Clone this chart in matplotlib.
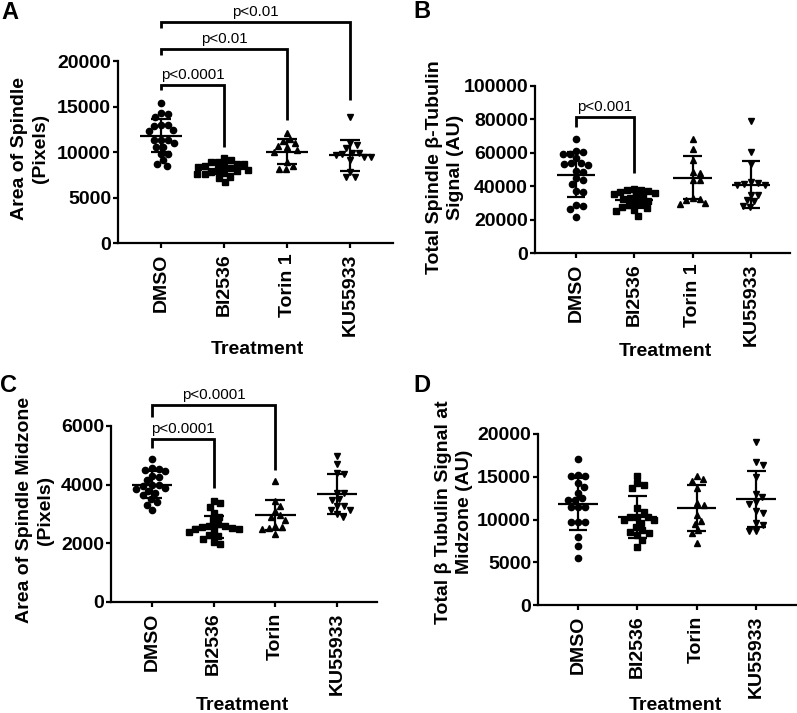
import numpy as np
import matplotlib
matplotlib.use('Agg')
import matplotlib.pyplot as plt

plt.rcParams['font.family'] = ['Liberation Sans', 'DejaVu Sans']
plt.rcParams['font.weight'] = 'bold'

# ---------------- data ----------------
cats_ab = ["DMSO", "BI2536", "Torin 1", "KU55933"]
cats_cd = ["DMSO", "BI2536", "Torin", "KU55933"]

# Panel A: Area of spindle (pixels)
a_dmso = [15340, 14130, 14240, 13800, 12950, 12950, 12840, 12400, 12290, 11300,
          11300, 11300, 11000, 10570, 10570, 9830, 9830, 9100, 8730, 8440]
a_bi = [9350, 9100, 8950, 8850, 8700, 8650, 8500, 8450, 8300, 8250,
        8150, 8050, 7900, 7850, 7700, 7600, 7550, 7300, 7150, 6700]
a_torin = [12120, 11400, 11210, 10950, 10660, 10510, 10220, 10040, 8930, 8460, 8100, 8100]
a_ku = [13880, 11030, 10770, 10400, 9930, 9930, 9740, 9670, 9490, 9490, 9120, 7840, 7290, 7220]
a_mean = [11800, 8150, 10050, 9620]
a_sd = [1800, 600, 1420, 1690]
a_yticks = [0, 5000, 10000, 15000, 20000]
a_brackets = [(0, 1, 17360, 16810, 10550, "p<0.0001"),
              (0, 2, 21280, 20660, 13520, "p<0.01"),
              (0, 3, 24320, 23590, 15710, "p<0.01")]

# Panel B: Total spindle beta-tubulin signal (AU)
b_dmso = [68080, 60660, 61260, 59100, 59100, 56700, 53290, 53700, 52690, 54070, 48680,
          49280, 43710, 44710, 41320, 36710, 37310, 28140, 28740, 26170, 21380]
b_bi = [38500, 38000, 37700, 37200, 36800, 36000, 35500, 34500, 33800, 33000,
        32500, 31000, 30200, 29500, 28500, 27800, 26800, 25800, 25000, 22200]
b_torin = [68000, 62000, 55500, 48500, 48000, 43700, 43700, 33000, 32500, 32000, 29700, 29500]
b_ku = [79000, 60500, 53500, 42500, 42000, 41500, 41000, 40500, 35000, 34500, 31500, 31000, 28000, 27500]
b_mean = [47000, 31700, 45100, 40900]
b_sd = [13300, 4700, 12960, 14250]
b_yticks = [0, 20000, 40000, 60000, 80000, 100000]
b_brackets = [(0, 1, 81600, 75600, 48100, "p<0.001")]

# Panel C: Area of spindle midzone (pixels)
c_dmso = [4860, 4580, 4540, 4500, 4450, 4300, 4250, 4150, 4000, 4000,
          3950, 3900, 3850, 3800, 3700, 3650, 3500, 3400, 3300, 3150]
c_bi = [3450, 3380, 3250, 3050, 2900, 2800, 2650, 2600, 2580, 2550,
        2520, 2500, 2480, 2450, 2400, 2300, 2250, 2150, 2050, 1980]
c_torin = [4120, 3450, 3270, 3110, 2960, 2900, 2780, 2600, 2550, 2520, 2500, 2330]
c_ku = [4980, 4700, 4390, 4360, 3730, 3720, 3500, 3480, 3270, 3260, 3140, 3130, 3000, 2900]
c_mean = [4000, 2557, 2966, 3677]
c_sd = [455, 375, 500, 676]
c_yticks = [0, 2000, 4000, 6000]
c_brackets = [(0, 1, 5546, 5240, 3876, "p<0.0001"),
              (0, 2, 6716, 6317, 4500, "p<0.0001")]

# Panel D: Total beta tubulin signal at midzone (AU)
d_dmso = [17040, 15090, 15090, 15200, 14230, 13760, 13140, 12280, 12480, 12280,
          11500, 11500, 11500, 9670, 9670, 9670, 7990, 6900, 5540]
d_bi = [15090, 14230, 14030, 13640, 11300, 10910, 10330, 9940, 10250, 9630,
        10250, 8770, 8460, 8190, 8580, 9090, 7600, 6750, 9900]
d_torin = [14700, 14540, 15090, 13640, 11700, 11890, 10530, 9470, 9860, 8770, 8460, 7220]
d_ku = [19100, 16690, 16380, 15010, 12590, 12980, 12080, 11800, 10990, 10800, 9360, 9550, 8690, 8690]
d_mean = [11810, 10330, 11380, 12400]
d_sd = [3020, 2460, 2710, 3250]
d_yticks = [0, 5000, 10000, 15000, 20000]

markers = ['o', 's', '^', 'v']
msizes = [4.5, 4.2, 4.8, 4.8]

W, H = 797, 713
fig = plt.figure(figsize=(W / 100, H / 100), dpi=100)


def add_axes_px(left, right, top, bottom):
    return fig.add_axes([left / W, 1 - bottom / H, (right - left) / W, (bottom - top) / H])


def swarm(ypx, d):
    order = np.argsort(-np.asarray(ypx))
    xs = np.zeros(len(ypx))
    placed = []
    for idx in order:
        y = ypx[idx]
        near = [(px, py) for px, py in placed if abs(py - y) < d]
        cands = [0.0]
        for px, py in near:
            dx = np.sqrt(d * d - (py - y) ** 2)
            cands += [px + dx, px - dx]
        cands.sort(key=lambda c: (round(abs(c), 6), -c))
        for c in cands:
            if all((c - px) ** 2 + (y - py) ** 2 >= d * d - 1e-6 for px, py in near):
                xs[idx] = c
                break
        placed.append((xs[idx], y))
    return xs


def draw_panel(ax, data, means, sds, yticks, cats, brackets, xlim=(-0.68, 3.68)):
    ymax = yticks[-1]
    ax.set_xlim(*xlim)
    ax.set_ylim(0, ymax)
    bb = ax.get_window_extent()
    ppu_y = bb.height / ymax
    ppu_x = bb.width / (xlim[1] - xlim[0])
    for i, vals in enumerate(data):
        vals = np.asarray(vals, dtype=float)
        offs = swarm(vals * ppu_y, 7.0)
        ax.plot(i + offs / ppu_x, vals, ls='none', marker=markers[i], ms=msizes[i],
                color='black', mec='black', clip_on=False, zorder=3)
        m, s = means[i], sds[i]
        kw = dict(color='black', lw=1.6, zorder=4, solid_capstyle='butt')
        ax.plot([i - 0.33, i + 0.33], [m, m], **kw)
        ax.plot([i, i], [m - s, m + s], **kw)
        ax.plot([i - 0.16, i + 0.16], [m + s, m + s], **kw)
        ax.plot([i - 0.16, i + 0.16], [m - s, m - s], **kw)
    for (i, j, yb, yl, yr, txt) in brackets:
        ax.plot([i, i, j, j], [yl, yb, yb, yr], color='black', lw=2.0, clip_on=False,
                solid_joinstyle='miter', solid_capstyle='butt', zorder=5)
        ax.annotate(txt, xy=((i + j) / 2, yb), xytext=(0, 2.2), textcoords='offset points',
                    ha='center', va='bottom', fontsize=10.8, fontweight='normal',
                    annotation_clip=False)
    for sp in ['top', 'right']:
        ax.spines[sp].set_visible(False)
    for sp in ['left', 'bottom']:
        ax.spines[sp].set_linewidth(1.6)
    ax.set_yticks(yticks)
    ax.set_yticklabels([str(t) for t in yticks])
    ax.set_xticks(range(len(cats)))
    ax.set_xticklabels(cats, rotation=90)
    ax.tick_params(axis='y', length=3.8, width=1.6, pad=1.2, labelsize=14)
    ax.tick_params(axis='x', length=3.8, width=1.6, pad=3.5, labelsize=14)


axA = add_axes_px(118, 393, 61, 243)
draw_panel(axA, [a_dmso, a_bi, a_torin, a_ku], a_mean, a_sd, a_yticks, cats_ab, a_brackets)
axB = add_axes_px(535, 790, 86, 253)
draw_panel(axB, [b_dmso, b_bi, b_torin, b_ku], b_mean, b_sd, b_yticks, cats_ab, b_brackets,
           xlim=(-0.70, 3.67))
axC = add_axes_px(111, 377, 426, 602)
draw_panel(axC, [c_dmso, c_bi, c_torin, c_ku], c_mean, c_sd, c_yticks, cats_cd, c_brackets,
           xlim=(-0.665, 3.65))
axD = add_axes_px(538, 797, 434, 605)
draw_panel(axD, [d_dmso, d_bi, d_torin, d_ku], d_mean, d_sd, d_yticks, cats_cd, [],
           xlim=(-0.674, 3.69))


def ftext(x, y, s, **kw):
    fig.text(x / W, 1 - y / H, s, **kw)


lab = dict(fontsize=14, fontweight='bold', rotation=90, ha='center', va='center',
           multialignment='center', linespacing=1.25)
ftext(30, 148, "Area of Spindle\n(Pixels)", **lab)
ftext(445, 167, "Total Spindle \u03b2-Tubulin\nSignal (AU)", **lab)
ftext(35, 510, "Area of Spindle Midzone\n(Pixels)", **lab)
ftext(454, 512, "Total \u03b2 Tubulin Signal at\nMidzone (AU)", **lab)

xl = dict(fontsize=14, fontweight='bold', ha='center', va='center')
ftext(257, 349, "Treatment", **xl)
ftext(665, 352, "Treatment", **xl)
ftext(242, 705, "Treatment", **xl)
ftext(675, 705, "Treatment", **xl)

pl = dict(fontsize=17, fontweight='bold', ha='left', va='baseline')
ftext(1, 19, "A", **pl)
ftext(413, 18, "B", **pl)
ftext(0, 392, "C", **pl)
ftext(413, 392, "D", **pl)

fig.savefig("out.png", dpi=100)
